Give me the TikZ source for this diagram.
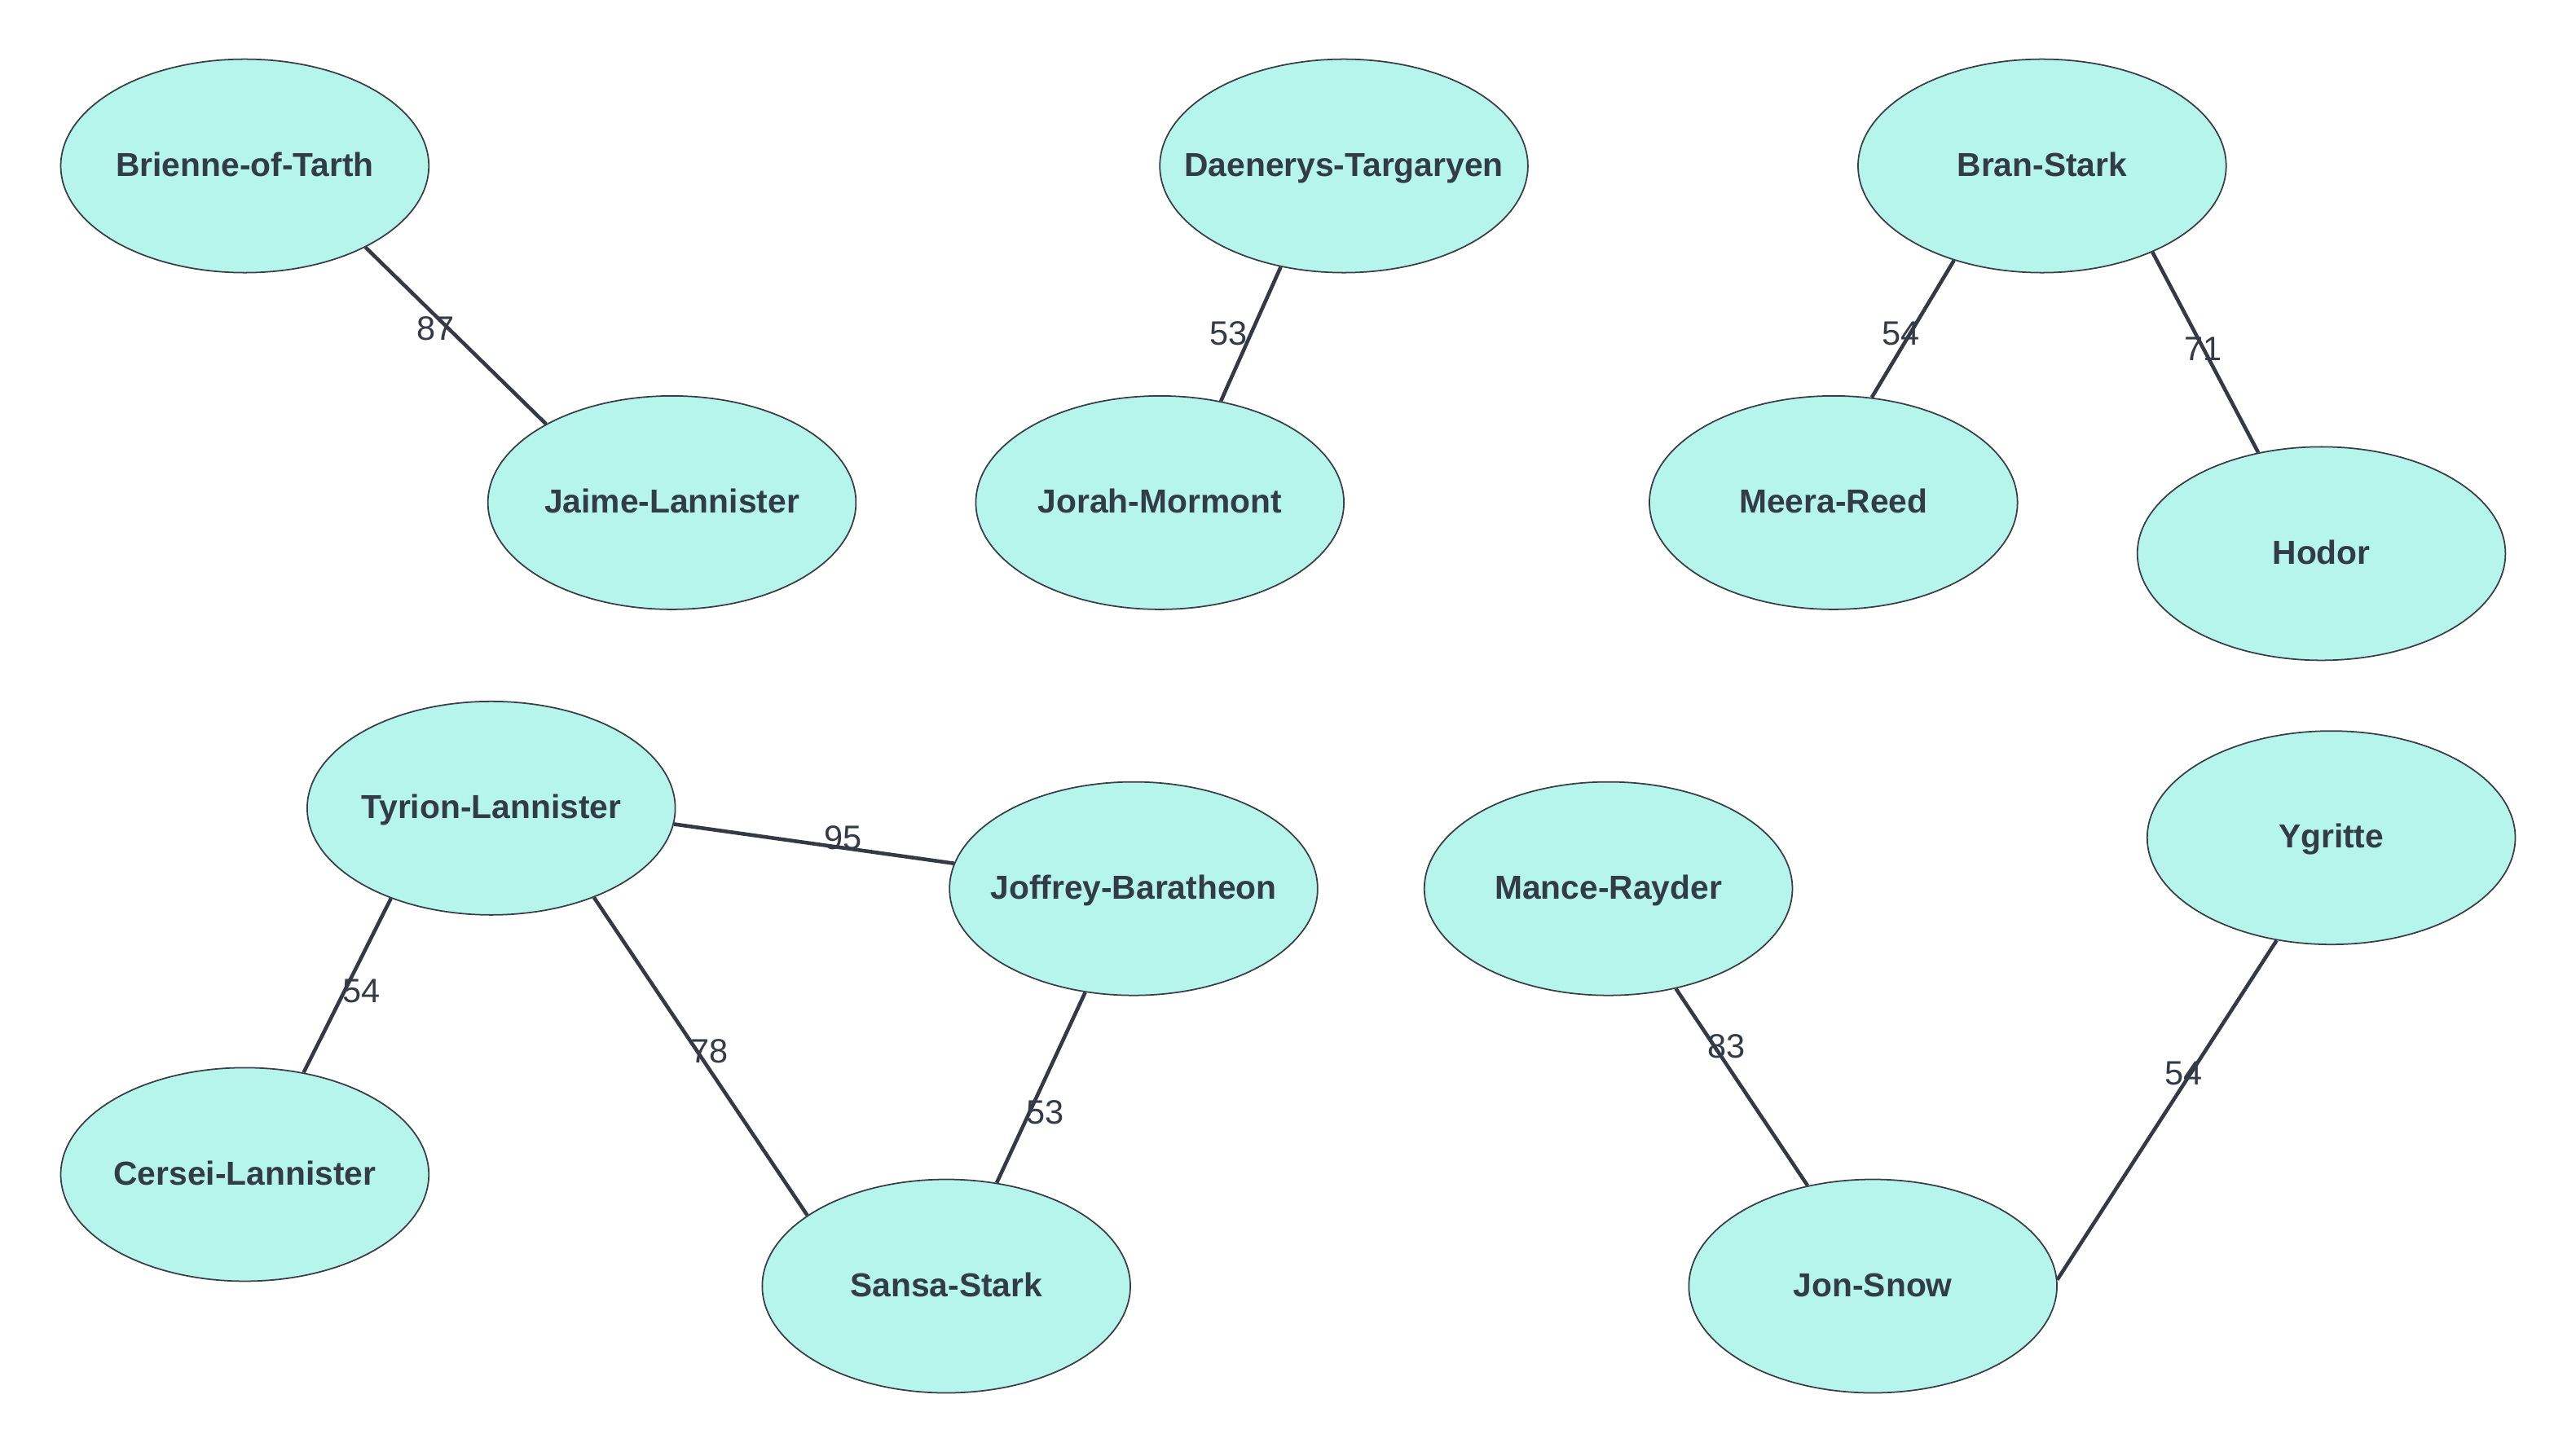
\documentclass[tikz,border=0pt]{standalone}
\usepackage{fontspec}
\setmainfont{Liberation Sans}
\usetikzlibrary{shapes.geometric}
\definecolor{nodefill}{HTML}{B5F5EC}
\definecolor{nodeline}{HTML}{3A3F47}
\definecolor{txt}{HTML}{333B46}
\definecolor{edgecol}{HTML}{333A45}
\tikzset{
  person/.style={ellipse, draw=nodeline, line width=0.5pt, fill=nodefill,
    minimum width=4.516cm, minimum height=2.62cm, inner sep=0pt,
    text height=0.72em, text depth=0pt,
    text=txt, font=\fontsize{11.6}{14}\selectfont\bfseries},
  link/.style={draw=edgecol, line width=1.3pt},
  weight/.style={text=txt, font=\fontsize{11.8}{14}\selectfont, inner sep=0pt,
    text height=0.72em, text depth=0pt}
}
\begin{document}
\begin{tikzpicture}[x=0.02016cm, y=-0.02016cm]
\useasboundingbox (0,0) rectangle (1568,886);
% nodes
\node[person] (brienne) at (149,101) {\makebox[0pt]{Brienne-of-Tarth}};
\node[person] (jaime) at (409,306) {\makebox[0pt]{Jaime-Lannister}};
\node[person] (daenerys) at (818,101) {\makebox[0pt]{Daenerys-Targaryen}};
\node[person] (jorah) at (706,306) {\makebox[0pt]{Jorah-Mormont}};
\node[person] (bran) at (1243,101) {\makebox[0pt]{Bran-Stark}};
\node[person] (meera) at (1116,306) {\makebox[0pt]{Meera-Reed}};
\node[person] (hodor) at (1413,337) {\makebox[0pt]{Hodor}};
\node[person] (tyrion) at (299,492) {\makebox[0pt]{Tyrion-Lannister}};
\node[person] (joffrey) at (690,541) {\makebox[0pt]{Joffrey-Baratheon}};
\node[person] (cersei) at (149,715) {\makebox[0pt]{Cersei-Lannister}};
\node[person] (sansa) at (576,783) {\makebox[0pt]{Sansa-Stark}};
\node[person] (mance) at (979,541) {\makebox[0pt]{Mance-Rayder}};
\node[person] (ygritte) at (1419,510) {\makebox[0pt]{Ygritte}};
\node[person] (jon) at (1140,783) {\makebox[0pt]{Jon-Snow}};
% edges
\draw[link] (brienne.-34.4) -- (jaime.148.6);
\draw[link] (daenerys.-122.2) -- (jorah.59.6);
\draw[link] (bran.-133.5) -- (meera.70.2);
\draw[link] (bran.-38) -- (hodor.122.6);
\draw[link] (tyrion.-5.7) -- (joffrey.172.1);
\draw[link] (tyrion.-138.4) -- (cersei.60.2);
\draw[link] (tyrion.-41.6) -- (sansa.153.4);
\draw[link] (joffrey.-115.5) -- (sansa.64.9);
\draw[link] (mance.-56.9) -- (jon.123.5);
\draw[link] (ygritte.-118.3) -- (jon.2);
% weights
\node[weight] (w1) at (265,201) {87};
\node[weight] (w2) at (748,204) {53};
\node[weight] (w3) at (1157,204) {54};
\node[weight] (w4) at (1341,213) {71};
\node[weight] (w5) at (513,511) {95};
\node[weight] (w6) at (220,604) {54};
\node[weight] (w7) at (432,641) {78};
\node[weight] (w8) at (636,678) {53};
\node[weight] (w9) at (1051,638) {83};
\node[weight] (w10) at (1329,654) {54};
\end{tikzpicture}
\end{document}
